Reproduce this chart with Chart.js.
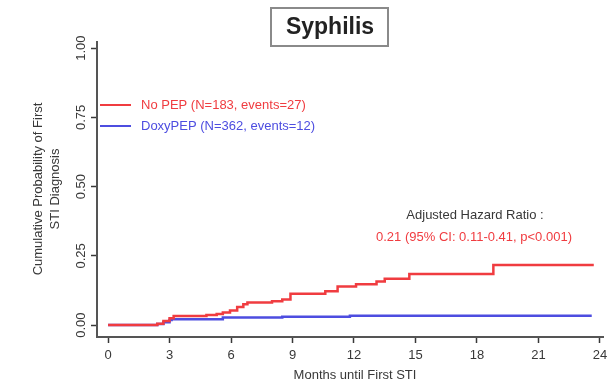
<!DOCTYPE html>
<html lang="en">
<head>
  <meta charset="UTF-8">
  <title>Syphilis</title>
  <script src="https://cdn.jsdelivr.net/npm/chart.js"></script>
  <style>
    body { margin: 0; background: #fff; }
    #wrap { position: relative; width: 607px; height: 383px; }
  </style>
</head>
<body>
  <div id="wrap"><canvas id="km"></canvas></div>

  <script>
    // Kaplan-Meier style steps (months, cumulative probability)
    const noPepMonths = [0, 2.1, 2.4, 2.7, 3.0, 3.2, 4.8, 5.3, 5.6, 5.95, 6.3, 6.6, 6.8, 8.0, 8.5, 8.9, 10.6, 11.2, 12.1, 13.1, 13.5, 14.7, 18.8, 23.7];
    const noPepProb   = [0, 0, 0.005, 0.015, 0.025, 0.033, 0.036, 0.04, 0.045, 0.053, 0.065, 0.075, 0.082, 0.086, 0.092, 0.113, 0.122, 0.139, 0.147, 0.157, 0.167, 0.184, 0.217, 0.217];
    const doxyMonths  = [0, 2.0, 2.4, 2.7, 3.0, 3.1, 5.6, 8.5, 11.8, 23.6];
    const doxyProb    = [0, 0, 0.004, 0.01, 0.018, 0.021, 0.027, 0.030, 0.034, 0.034];

    const xTicks = [0, 3, 6, 9, 12, 15, 18, 21, 24];
    const yTicks = [0, 0.25, 0.5, 0.75, 1.0];
    const legendLabels = ['No PEP (N=183, events=27)', 'DoxyPEP (N=362, events=12)'];

    const RED = '#f03c40';
    const BLUE = '#4d4de0';
    const INK = '#383838';
    const FONT = '"Liberation Sans", Arial, sans-serif';

    function toPoints(xs, ys) {
      return xs.map((x, i) => ({ x: x, y: ys[i] }));
    }

    // extra drawing: title box, legend, annotation, tick labels in R style
    const decorations = {
      id: 'decorations',
      afterDraw(chart) {
        const ctx = chart.ctx;
        const xs = chart.scales.x;
        const ys = chart.scales.y;
        ctx.save();

        // title box
        ctx.strokeStyle = '#8a8a8a';
        ctx.lineWidth = 2;
        ctx.strokeRect(271, 8, 117, 38);
        ctx.fillStyle = '#222';
        ctx.font = 'bold 23px ' + FONT;
        ctx.textAlign = 'center';
        ctx.textBaseline = 'middle';
        ctx.fillText('Syphilis', 330, 28);

        ctx.font = '13px ' + FONT;
        ctx.fillStyle = INK;

        // x tick labels + axis title
        xTicks.forEach(v => {
          ctx.fillText(String(v), xs.getPixelForValue(v), 355);
        });
        ctx.fillText('Months until First STI', 355, 375);

        // y tick labels, rotated
        yTicks.forEach(v => {
          const py = ys.getPixelForValue(v);
          ctx.save();
          ctx.translate(81, py);
          ctx.rotate(-Math.PI / 2);
          ctx.fillText(v.toFixed(2), 0, 0);
          ctx.restore();
        });

        // y axis title (two lines)
        ctx.save();
        ctx.translate(38, 189);
        ctx.rotate(-Math.PI / 2);
        ctx.fillText('Cumulative Probability of First', 0, 0);
        ctx.fillText('STI Diagnosis', 0, 17);
        ctx.restore();

        // legend
        ctx.textAlign = 'left';
        ctx.lineWidth = 2;
        [[RED, 105], [BLUE, 126]].forEach(([c, py], i) => {
          ctx.strokeStyle = c;
          ctx.beginPath();
          ctx.moveTo(100, py);
          ctx.lineTo(131, py);
          ctx.stroke();
          ctx.fillStyle = c;
          ctx.fillText(legendLabels[i], 141, py);
        });

        // hazard ratio annotation
        ctx.textAlign = 'center';
        ctx.fillStyle = INK;
        ctx.fillText('Adjusted Hazard Ratio :', 475, 215);
        ctx.fillStyle = RED;
        ctx.fillText('0.21 (95% CI: 0.11-0.41, p<0.001)', 474, 237);

        ctx.restore();
      }
    };

    new Chart(document.getElementById('km'), {
      type: 'line',
      data: {
        datasets: [
          { label: 'No PEP', data: toPoints(noPepMonths, noPepProb), borderColor: RED, borderWidth: 2.5, stepped: true, pointRadius: 0, fill: false },
          { label: 'DoxyPEP', data: toPoints(doxyMonths, doxyProb), borderColor: BLUE, borderWidth: 2.5, stepped: true, pointRadius: 0, fill: false }
        ]
      },
      options: {
        responsive: true,
        maintainAspectRatio: false,
        animation: false,
        layout: { padding: { top: 42, right: 4, left: 0, bottom: 0 } },
        plugins: { legend: { display: false }, tooltip: { enabled: false } },
        scales: {
          x: {
            type: 'linear',
            min: -0.54,
            max: 24.15,
            afterBuildTicks: s => { s.ticks = xTicks.map(v => ({ value: v })); },
            afterFit: s => { s.height = 46; },
            grid: { display: true, drawOnChartArea: false, tickLength: 6, color: INK, tickWidth: 1.5 },
            border: { display: true, color: '#555', width: 2 },
            ticks: { display: false }
          },
          y: {
            min: -0.043,
            max: 1.022,
            afterBuildTicks: s => { s.ticks = yTicks.map(v => ({ value: v })); },
            afterFit: s => { s.width = 97; },
            grid: { display: true, drawOnChartArea: false, tickLength: 6, color: INK, tickWidth: 1.5 },
            border: { display: true, color: '#555', width: 2 },
            ticks: { display: false }
          }
        }
      },
      plugins: [decorations]
    });
  </script>
</body>
</html>
